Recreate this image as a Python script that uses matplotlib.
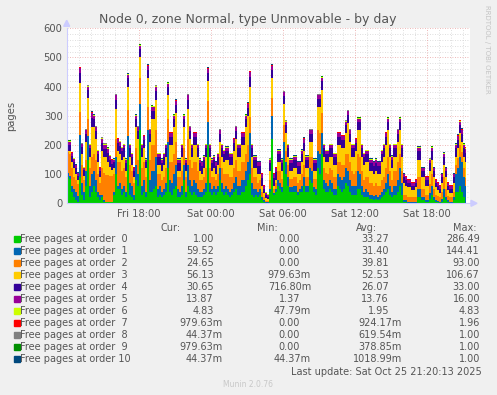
import matplotlib
matplotlib.use("Agg")
import matplotlib.pyplot as plt
from matplotlib.patches import Rectangle

W, H = 497, 395

title = "Node 0, zone Normal, type Unmovable - by day"
tick_hours = [6, 12, 18, 24, 30]
tick_labels = ["Fri 18:00", "Sat 00:00", "Sat 06:00", "Sat 12:00", "Sat 18:00"]
step_hours = 1.0 / 6.0  # one sample every 10 minutes, starting Fri 12:00

labels = ["Free pages at order  0", "Free pages at order  1", "Free pages at order  2",
          "Free pages at order  3", "Free pages at order  4", "Free pages at order  5",
          "Free pages at order  6", "Free pages at order  7", "Free pages at order  8",
          "Free pages at order  9", "Free pages at order 10"]
colors = ["#00CC00", "#0066B3", "#FF8000", "#FFCC00", "#330099", "#990099",
          "#CCFF00", "#FF0000", "#808080", "#008F00", "#00487D"]

cur = ["1.00", "59.52", "24.65", "56.13", "30.65", "13.87", "4.83", "979.63m", "44.37m", "979.63m", "44.37m"]
mins = ["0.00", "0.00", "0.00", "979.63m", "716.80m", "1.37", "47.79m", "0.00", "0.00", "0.00", "44.37m"]
avgs = ["33.27", "31.40", "39.81", "52.53", "26.07", "13.76", "1.95", "924.17m", "619.54m", "378.85m", "1018.99m"]
maxs = ["286.49", "144.41", "93.00", "106.67", "33.00", "16.00", "4.83", "1.96", "1.00", "1.00", "1.00"]

order0 = [90, 85, 40, 20, 10, 5, 90, 30, 10, 60, 150, 20, 40, 60, 40, 20, 10, 20, 5, 5,
          5, 5, 5, 30, 100, 50, 50, 30, 40, 20, 150, 30, 20, 10, 80, 60, 250, 30, 40, 20,
          150, 40, 40, 50, 60, 20, 30, 20, 30, 40, 120, 40, 30, 50, 60, 20, 20, 30, 80, 20,
          60, 40, 30, 40, 30, 20, 20, 20, 30, 40, 200, 40, 30, 40, 30, 40, 80, 40, 30, 40,
          30, 20, 30, 40, 50, 30, 30, 40, 40, 60, 80, 100, 30, 20, 30, 20, 30, 10, 5, 2,
          2, 40, 220, 30, 40, 60, 50, 40, 150, 100, 60, 40, 40, 40, 40, 30, 40, 40, 60, 40,
          40, 80, 70, 40, 30, 120, 100, 170, 50, 40, 40, 50, 40, 30, 30, 60, 50, 40, 50, 70,
          60, 40, 30, 30, 30, 50, 50, 30, 20, 20, 20, 15, 15, 10, 15, 10, 15, 20, 30, 40,
          50, 30, 20, 30, 30, 40, 60, 30, 5, 5, 2, 2, 2, 2, 2, 20, 20, 10, 10, 5,
          5, 15, 30, 10, 5, 3, 2, 5, 20, 10, 5, 2, 2, 10, 40, 40, 60, 40, 20, 1]
order1 = [15, 10, 20, 30, 30, 20, 144, 40, 30, 50, 80, 40, 60, 50, 40, 20, 20, 10, 5, 0,
          0, 0, 0, 10, 60, 10, 20, 20, 20, 20, 80, 40, 40, 20, 50, 40, 90, 30, 40, 20,
          100, 40, 70, 60, 100, 30, 30, 20, 20, 30, 90, 40, 40, 50, 70, 30, 20, 30, 50, 20,
          70, 40, 30, 40, 40, 30, 20, 20, 20, 30, 80, 30, 20, 20, 20, 20, 40, 30, 20, 20,
          20, 20, 20, 30, 40, 30, 30, 40, 40, 50, 60, 140, 40, 30, 20, 20, 20, 10, 5, 2,
          2, 10, 80, 5, 10, 20, 20, 15, 60, 40, 30, 15, 15, 20, 20, 10, 10, 20, 30, 20,
          20, 40, 40, 15, 20, 60, 70, 70, 30, 30, 20, 30, 30, 20, 20, 40, 40, 40, 40, 50,
          50, 40, 30, 30, 30, 60, 50, 30, 20, 30, 20, 15, 15, 15, 15, 10, 15, 20, 20, 30,
          50, 30, 20, 30, 30, 40, 60, 40, 5, 5, 3, 3, 3, 3, 3, 30, 30, 10, 10, 5,
          5, 20, 30, 10, 5, 5, 3, 10, 30, 10, 5, 3, 3, 10, 60, 80, 100, 100, 70, 59.52]
order2 = [70, 75, 60, 40, 40, 40, 80, 60, 40, 40, 60, 60, 60, 60, 70, 60, 40, 90, 93, 93,
          93, 90, 90, 60, 60, 80, 70, 60, 60, 50, 90, 60, 50, 40, 60, 50, 90, 60, 60, 50,
          80, 70, 90, 90, 90, 50, 40, 40, 40, 50, 80, 60, 70, 70, 80, 40, 50, 50, 60, 50,
          90, 70, 60, 60, 70, 60, 40, 40, 40, 50, 70, 50, 40, 30, 30, 40, 40, 50, 50, 40,
          50, 50, 40, 50, 60, 50, 50, 60, 60, 60, 60, 55, 50, 40, 40, 30, 30, 20, 10, 5,
          5, 30, 60, 15, 20, 30, 40, 30, 60, 40, 40, 30, 30, 30, 30, 30, 30, 40, 40, 30,
          30, 40, 50, 30, 35, 70, 70, 70, 40, 35, 40, 40, 45, 40, 40, 40, 50, 50, 40, 50,
          60, 60, 50, 40, 50, 60, 60, 50, 40, 40, 50, 40, 40, 35, 40, 40, 30, 40, 40, 50,
          60, 50, 40, 50, 50, 60, 50, 40, 20, 20, 15, 15, 15, 15, 15, 40, 40, 30, 30, 20,
          20, 30, 40, 30, 20, 17, 15, 25, 40, 30, 15, 15, 15, 20, 30, 35, 40, 35, 30, 24.65]
order3 = [5, 10, 20, 30, 20, 15, 100, 40, 15, 60, 70, 40, 100, 90, 70, 40, 20, 60, 55, 60,
          45, 30, 20, 20, 105, 40, 30, 40, 40, 20, 80, 30, 20, 20, 70, 70, 70, 40, 50, 30,
          100, 60, 90, 90, 105, 30, 30, 30, 40, 40, 80, 60, 60, 90, 100, 20, 20, 50, 70, 20,
          105, 70, 40, 60, 60, 50, 30, 20, 30, 40, 70, 40, 20, 30, 20, 30, 50, 40, 40, 50,
          50, 40, 40, 60, 70, 50, 50, 60, 60, 90, 100, 105, 40, 30, 30, 30, 20, 20, 15, 10,
          5, 30, 70, 10, 10, 30, 30, 25, 70, 60, 30, 25, 25, 30, 30, 30, 20, 40, 50, 30,
          30, 50, 50, 25, 25, 80, 90, 80, 40, 35, 40, 40, 45, 40, 40, 60, 60, 60, 60, 70,
          105, 70, 50, 60, 70, 80, 90, 50, 50, 50, 50, 40, 40, 40, 40, 40, 40, 60, 70, 80,
          90, 50, 40, 50, 50, 70, 80, 50, 40, 30, 35, 35, 25, 25, 35, 60, 60, 40, 40, 30,
          30, 45, 50, 40, 25, 20, 15, 30, 40, 40, 20, 15, 15, 30, 30, 35, 40, 35, 40, 56.13]
order4 = [20, 20, 22, 22, 20, 15, 33, 22, 18, 28, 28, 28, 33, 28, 28, 28, 20, 28, 28, 28,
          28, 25, 20, 20, 30, 28, 28, 28, 28, 28, 28, 28, 28, 20, 28, 28, 28, 28, 28, 20,
          28, 28, 28, 28, 30, 28, 28, 28, 28, 28, 28, 28, 28, 28, 28, 28, 28, 28, 28, 28,
          30, 28, 28, 28, 28, 28, 28, 28, 28, 28, 28, 28, 28, 28, 28, 28, 28, 28, 28, 28,
          28, 28, 28, 28, 28, 28, 28, 28, 28, 28, 28, 33, 28, 28, 28, 28, 28, 28, 15, 10,
          8, 28, 28, 28, 28, 28, 28, 28, 28, 28, 28, 28, 28, 28, 28, 28, 28, 28, 28, 28,
          28, 28, 28, 28, 28, 28, 28, 28, 28, 28, 28, 28, 28, 28, 28, 28, 28, 28, 28, 28,
          28, 28, 28, 28, 28, 28, 28, 28, 28, 28, 28, 28, 28, 28, 28, 28, 28, 28, 28, 28,
          28, 28, 28, 28, 28, 28, 28, 28, 20, 20, 15, 15, 15, 15, 15, 28, 28, 20, 20, 20,
          20, 28, 28, 20, 15, 15, 15, 20, 28, 20, 15, 15, 15, 20, 28, 28, 28, 28, 28, 30.65]
order5 = [10, 10, 10, 10, 10, 8, 16, 10, 8, 12, 12, 12, 16, 12, 12, 12, 10, 12, 14, 14,
          14, 12, 12, 10, 15, 12, 12, 12, 12, 12, 12, 12, 12, 10, 12, 12, 12, 12, 12, 10,
          12, 12, 12, 12, 15, 12, 12, 12, 12, 12, 12, 12, 12, 12, 12, 12, 12, 12, 12, 12,
          15, 12, 12, 12, 12, 12, 12, 12, 12, 12, 12, 12, 12, 12, 12, 12, 12, 12, 12, 12,
          12, 12, 12, 12, 12, 12, 12, 12, 12, 12, 12, 16, 12, 12, 12, 12, 12, 12, 10, 8,
          8, 12, 12, 12, 12, 12, 12, 12, 12, 12, 12, 12, 12, 12, 12, 12, 12, 12, 12, 12,
          12, 12, 12, 12, 12, 12, 12, 12, 12, 12, 12, 12, 12, 12, 12, 12, 12, 12, 12, 12,
          12, 12, 12, 12, 12, 12, 12, 12, 12, 12, 12, 12, 12, 12, 12, 12, 12, 12, 12, 12,
          12, 12, 12, 12, 12, 12, 12, 12, 10, 10, 10, 10, 10, 10, 10, 12, 12, 10, 10, 10,
          10, 12, 12, 10, 10, 10, 10, 10, 12, 10, 10, 10, 10, 10, 12, 12, 12, 12, 12, 13.87]
order6 = [3, 3, 2, 2, 2, 1, 2, 2, 2, 2, 2, 2, 2, 2, 2, 2, 2, 4, 4, 4,
          4, 3, 3, 2, 2, 2, 2, 2, 2, 2, 2, 2, 2, 2, 2, 2, 2, 2, 2, 2,
          2, 2, 2, 2, 2, 2, 2, 2, 2, 2, 2, 2, 2, 2, 2, 2, 2, 2, 2, 2,
          2, 2, 2, 2, 2, 2, 2, 2, 2, 2, 2, 2, 2, 2, 2, 2, 2, 2, 2, 2,
          2, 2, 2, 2, 2, 2, 2, 2, 2, 2, 2, 2, 2, 2, 2, 2, 2, 2, 1, 1,
          1, 2, 2, 2, 2, 2, 2, 2, 2, 2, 2, 2, 2, 2, 2, 2, 2, 2, 2, 2,
          2, 2, 2, 2, 2, 2, 2, 2, 2, 2, 2, 2, 2, 2, 2, 2, 2, 2, 2, 2,
          2, 2, 2, 2, 2, 2, 2, 2, 2, 2, 2, 2, 2, 2, 2, 2, 2, 2, 2, 2,
          2, 2, 2, 2, 2, 2, 2, 2, 1, 1, 1, 1, 1, 1, 1, 2, 2, 1, 1, 1,
          1, 2, 2, 1, 1, 1, 1, 1, 2, 1, 1, 1, 1, 1, 2, 2, 3, 3, 3, 4.83]
order7 = [1, 1, 1, 1, 1, 1, 1, 1, 1, 1, 1, 1, 1, 1, 1, 1, 1, 1, 1, 1,
          1, 1, 1, 1, 1, 1, 1, 1, 1, 1, 1, 1, 1, 1, 1, 1, 1, 1, 1, 1,
          1, 1, 1.96, 1, 1, 1, 1, 1, 1, 1, 1, 1, 1, 1, 1, 1, 1, 1, 1, 1,
          1, 1, 1, 1, 1, 1, 1, 1, 1, 1, 1, 1, 1, 1, 1, 1, 1, 1, 1, 1,
          1, 1, 1, 1, 1, 1, 1, 1, 1, 1, 1, 1, 1, 1, 1, 1, 1, 1, 1, 0,
          0, 1, 1, 1, 1, 1, 1, 1, 1, 1, 1, 1, 1, 1, 1, 1, 1, 1, 1, 1,
          1, 1, 1, 1, 1, 1, 1, 1, 1, 1, 1, 1, 1, 1, 1, 1, 1, 1, 1, 1,
          1, 1, 1, 1, 1, 1, 1, 1, 1, 1, 1, 1, 1, 1, 1, 1, 1, 1, 1, 1,
          1, 1, 1, 1, 1, 1, 1, 1, 1, 1, 1, 1, 1, 1, 1, 1, 1, 1, 1, 1,
          1, 1, 1, 1, 1, 1, 1, 1, 1, 1, 1, 1, 1, 1, 1, 1, 1, 1, 1, 0.98]
order8 = [1, 1, 0, 1, 0, 0, 1, 1, 0, 1, 1, 1, 1, 1, 1, 0, 0, 1, 1, 1,
          1, 0, 0, 0, 1, 1, 1, 0, 1, 0, 1, 1, 0, 0, 1, 1, 1, 0, 1, 0,
          1, 1, 1, 1, 1, 0, 0, 0, 0, 1, 1, 1, 1, 1, 1, 0, 0, 1, 1, 0,
          1, 1, 0, 1, 1, 1, 0, 0, 0, 1, 1, 1, 0, 0, 0, 0, 1, 1, 0, 1,
          1, 0, 0, 1, 1, 1, 1, 1, 1, 1, 1, 1, 1, 0, 0, 0, 0, 0, 0, 0,
          0, 1, 1, 0, 0, 1, 1, 0, 1, 1, 1, 0, 0, 0, 0, 0, 0, 1, 1, 0,
          0, 1, 1, 0, 0, 1, 1, 1, 1, 0, 0, 1, 1, 0, 0, 1, 1, 1, 1, 1,
          1, 1, 1, 1, 1, 1, 1, 1, 0, 0, 0, 0, 0, 0, 0, 0, 0, 0, 1, 1,
          1, 1, 0, 1, 1, 1, 1, 1, 0, 0, 0, 0, 0, 0, 0, 1, 1, 0, 0, 0,
          0, 1, 1, 0, 0, 0, 0, 0, 1, 0, 0, 0, 0, 0, 1, 1, 1, 1, 1, 0.04]
order9 = [1, 1, 0, 0, 0, 0, 1, 0, 0, 0, 1, 0, 1, 0, 0, 0, 0, 1, 1, 1,
          1, 0, 0, 0, 1, 0, 0, 0, 0, 0, 1, 0, 0, 0, 0, 0, 1, 0, 0, 0,
          1, 0, 1, 0, 1, 0, 0, 0, 0, 0, 1, 0, 0, 1, 1, 0, 0, 0, 1, 0,
          1, 0, 0, 0, 0, 0, 0, 0, 0, 0, 1, 0, 0, 0, 0, 0, 1, 0, 0, 0,
          0, 0, 0, 0, 1, 0, 0, 0, 0, 1, 1, 1, 0, 0, 0, 0, 0, 0, 0, 0,
          0, 0, 1, 0, 0, 0, 0, 0, 1, 1, 0, 0, 0, 0, 0, 0, 0, 0, 1, 0,
          0, 1, 1, 0, 0, 1, 1, 1, 0, 0, 0, 0, 0, 0, 0, 1, 1, 0, 0, 1,
          1, 0, 0, 0, 0, 1, 1, 0, 0, 0, 0, 0, 0, 0, 0, 0, 0, 0, 0, 1,
          1, 0, 0, 0, 0, 0, 1, 0, 0, 0, 0, 0, 0, 0, 0, 0, 0, 0, 0, 0,
          0, 0, 1, 0, 0, 0, 0, 0, 0, 0, 0, 0, 0, 0, 1, 1, 1, 1, 1, 0.98]
order10 = [1, 1, 1, 1, 1, 1, 1, 1, 1, 1, 1, 1, 1, 1, 1, 1, 1, 1, 1, 1,
           1, 1, 1, 1, 1, 1, 1, 1, 1, 1, 1, 1, 1, 1, 1, 1, 1, 1, 1, 1,
           1, 1, 1, 1, 1, 1, 1, 1, 1, 1, 1, 1, 1, 1, 1, 1, 1, 1, 1, 1,
           1, 1, 1, 1, 1, 1, 1, 1, 1, 1, 1, 1, 1, 1, 1, 1, 1, 1, 1, 1,
           1, 1, 1, 1, 1, 1, 1, 1, 1, 1, 1, 1, 1, 1, 1, 1, 1, 1, 1, 1,
           1, 1, 1, 1, 1, 1, 1, 1, 1, 1, 1, 1, 1, 1, 1, 1, 1, 1, 1, 1,
           1, 1, 1, 1, 1, 1, 1, 1, 1, 1, 1, 1, 1, 1, 1, 1, 1, 1, 1, 1,
           1, 1, 1, 1, 1, 1, 1, 1, 1, 1, 1, 1, 1, 1, 1, 1, 1, 1, 1, 1,
           1, 1, 1, 1, 1, 1, 1, 1, 1, 1, 1, 1, 1, 1, 1, 1, 1, 1, 1, 1,
           1, 1, 1, 1, 1, 1, 1, 1, 1, 1, 1, 1, 1, 1, 1, 1, 1, 1, 1, 0.04437]

series = [order0, order1, order2, order3, order4, order5, order6, order7, order8, order9, order10]
n = len(order0)
hours = [step_hours * (i + 0.5) for i in range(n)]

fig = plt.figure(figsize=(W / 100, H / 100), dpi=100)
fig.patch.set_facecolor("#F0F0F0")

def fx(x):
    return x / W

def fy(y):
    return 1 - y / H

L, R, T, B = 66.7, 470.0, 28.3, 203.3
xmax = (R - L) / 12.0
ax = fig.add_axes([fx(L), fy(B), (R - L) / W, (B - T) / H])
ax.set_facecolor("white")
ax.stackplot(hours, *series, colors=colors, linewidth=0, step="mid", zorder=2)
ax.set_xlim(0, xmax)
ax.set_ylim(0, 600)

# grid
for hh in range(1, 34):
    if hh in tick_hours:
        continue
    ax.axvline(hh, color="#d4d4d4", lw=0.6, ls=(0, (1, 2)), zorder=0.5)
for v in range(20, 600, 20):
    if v % 100 == 0:
        continue
    ax.axhline(v, color="#d4d4d4", lw=0.6, ls=(0, (1, 2)), zorder=0.5)
for hh in tick_hours:
    ax.axvline(hh, color="#e8a0a0", lw=0.6, ls=(0, (1, 2)), zorder=0.6)
for v in range(100, 700, 100):
    ax.axhline(v, color="#e8a0a0", lw=0.6, ls=(0, (1, 2)), zorder=0.6)

for s in ax.spines.values():
    s.set_visible(False)
ax.set_xticks(tick_hours)
ax.set_xticklabels(tick_labels)
ax.set_yticks([0, 100, 200, 300, 400, 500, 600])
ax.tick_params(axis="both", length=0, labelsize=7.2, colors="#555555", pad=3)
ax.tick_params(axis="x", pad=4)

# axis lines with arrows
axis_col = "#ccccff"
ax.plot([0, 0], [0, 600], color=axis_col, lw=0.8, clip_on=False, zorder=5)
ax.plot([0, xmax], [0, 0], color=axis_col, lw=0.8, clip_on=False, zorder=5)
fig.add_artist(plt.Polygon([(fx(L - 3), fy(T - 2)), (fx(L + 3), fy(T - 2)), (fx(L), fy(T - 8))],
                           closed=True, color=axis_col))
fig.add_artist(plt.Polygon([(fx(R + 1), fy(B - 3)), (fx(R + 1), fy(B + 3)), (fx(R + 7), fy(B))],
                           closed=True, color=axis_col))

fig.text(fx(248), fy(19), title, ha="center", va="center", fontsize=9, color="#555555")
fig.text(fx(11.5), fy(115.6), "pages", rotation=90, ha="center", va="center", fontsize=7.2, color="#555555")
fig.text(fx(487), fy(5), "RRDTOOL / TOBI OETIKER", rotation=270, ha="center", va="top",
         fontsize=5, color="#c4c4c4")

# legend table
txt_col = "#555555"
fs = 7.0
hy = 227.7
fig.text(fx(180.5), fy(hy), "Cur:", ha="right", va="center", fontsize=fs, color=txt_col)
fig.text(fx(278), fy(hy), "Min:", ha="right", va="center", fontsize=fs, color=txt_col)
fig.text(fx(377), fy(hy), "Avg:", ha="right", va="center", fontsize=fs, color=txt_col)
fig.text(fx(477), fy(hy), "Max:", ha="right", va="center", fontsize=fs, color=txt_col)

def colx(val, base_plain, base_m):
    return base_m if val.endswith("m") else base_plain

for k in range(len(labels)):
    y = 239.3 + 12.0 * k
    fig.add_artist(Rectangle((fx(14), fy(y + 3)), 6 / W, 6 / H, color=colors[k]))
    fig.text(fx(20.5), fy(y), labels[k], ha="left", va="center", fontsize=fs, color=txt_col)
    fig.text(fx(colx(cur[k], 214, 223)), fy(y), cur[k], ha="right", va="center", fontsize=fs, color=txt_col)
    fig.text(fx(colx(mins[k], 300, 311)), fy(y), mins[k], ha="right", va="center", fontsize=fs, color=txt_col)
    fig.text(fx(colx(avgs[k], 389, 402)), fy(y), avgs[k], ha="right", va="center", fontsize=fs, color=txt_col)
    fig.text(fx(480), fy(y), maxs[k], ha="right", va="center", fontsize=fs, color=txt_col)

fig.text(fx(482), fy(371.7), "Last update: Sat Oct 25 21:20:13 2025", ha="right", va="center",
         fontsize=fs, color=txt_col)
fig.text(fx(248), fy(384.5), "Munin 2.0.76", ha="center", va="center", fontsize=5.5, color="#c8c8c8")

fig.savefig("out.png", dpi=100, facecolor=fig.get_facecolor())
